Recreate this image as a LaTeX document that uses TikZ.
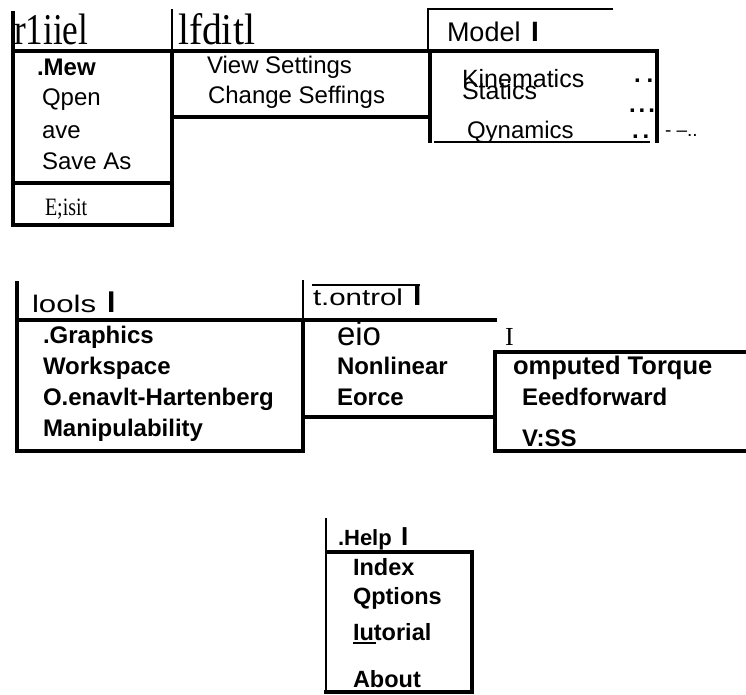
\documentclass[tikz,border=0pt]{standalone}
\usepackage{fontspec}
\setmainfont{Liberation Sans}
\newfontfamily\tmsfont{Liberation Serif}
\newcommand{\fs}[1]{\fontsize{#1}{#1}\selectfont}
\begin{document}
\begin{tikzpicture}[x=1pt,y=-1pt,
  heavy/.style={line width=4pt},
  light/.style={line width=1.3pt},
  mid/.style={line width=2.3pt},
  txt/.style={anchor=base west, inner sep=0pt, outer sep=0pt},
  item/.style={txt, font=\fs{24}},
  bitem/.style={txt, font=\fs{24}\bfseries},
  dots/.style={txt, font=\fs{24}\bfseries, text height=5pt, text depth=0pt}]
\useasboundingbox (0,0) rectangle (746,695);
\fill[white] (0,0) rectangle (746,695);

% ---------- top section: lines ----------
\draw[heavy] (13,11) -- (13,225) -- (172,225) -- (172,51);
\draw[heavy] (11,51) -- (659,51);
\draw[heavy] (13,183) -- (172,183);
\draw[heavy] (172,117) -- (430,117);
\draw[heavy] (430,51) -- (430,143);
\draw[heavy] (657,49) -- (657,143);
\draw[mid] (434,142) -- (650,142);
\draw[light] (172,9) -- (172,51);
\draw[light] (428,51) -- (428,9) -- (613,9);

% ---------- top section: texts ----------
\node[txt, font=\fs{44}\tmsfont] (file) at (14,45) {\scalebox{0.8}[1]{r1iiel}};
\node[txt, font=\fs{44}\tmsfont] (edit) at (178,45) {\scalebox{0.9}[1]{lfditl}};
\node[txt, font=\fs{27}] (model) at (447,42) {Model};
\node[txt, font=\fs{28}\bfseries] (modelbar) at (531,42) {I};

\node[txt, font=\fs{24}\bfseries] (new) at (37,76) {.Mew};
\node[item] (open) at (42,106) {Qpen};
\node[item] (save) at (42,139) {ave};
\node[item] (saveas) at (42,170) {Save As};
\node[txt, font=\fs{25}\tmsfont] (exit) at (45,215) {\scalebox{0.8}[1]{E;isit}};

\node[item] (view) at (207,74) {View Settings};
\node[item] (change) at (208,104) {Change Seffings};

\node[txt, font=\fs{25}] (kin) at (462,88) {Kinematics};
\node[txt, font=\fs{25}] (stat) at (462,100) {Statics};
\node[item] (dyn) at (467,139) {Qynamics};
\node[dots] (d1) at (634,83) {.\kern6pt.};
\node[dots] (d2) at (629,113) {.\kern3pt.\kern3pt.};
\node[dots] (d3) at (632,139) {.\kern4pt.};
\node[txt, font=\fs{19}] (trail) at (665,137) {- --..};

% ---------- middle section: lines ----------
\draw[heavy] (17,281) -- (17,451) -- (303,451) -- (303,320);
\draw[heavy] (15,320) -- (497,320);
\draw[heavy] (303,417) -- (497,417);
\draw[heavy] (746,352) -- (495,352) -- (495,451) -- (746,451);
\draw[light] (303,280) -- (303,320);
\draw[light] (312,285) -- (420,285);

% ---------- middle section: texts ----------
\node[txt, font=\fs{24}] (tools) at (32,312) {\scalebox{1.3}[1]{lools}};
\node[txt, font=\fs{30}\bfseries] (toolsbar) at (107,312) {I};
\node[txt, font=\fs{23}] (control) at (313,305) {\scalebox{1.28}[1]{t.ontrol}};
\node[txt, font=\fs{30}\bfseries] (controlbar) at (413,305) {I};

\node[bitem] (graphics) at (43,343) {.Graphics};
\node[bitem] (workspace) at (43,374) {Workspace};
\node[bitem] (dh) at (43,405) {O.enavlt-Hartenberg};
\node[bitem] (manip) at (43,436) {Manipulability};

\node[txt, font=\fs{33}] (pid) at (337,345) {eio};
\node[bitem] (nonlin) at (337,374) {Nonlinear};
\node[bitem] (force) at (337,405) {Eorce};
\node[txt, font=\fs{26}\tmsfont] (cursor) at (505,345) {I};

\node[txt, font=\fs{25.5}\bfseries] (ct) at (513,374) {omputed Torque};
\node[bitem] (ff) at (522,405) {Eeedforward};
\node[bitem] (vss) at (522,446) {V:SS};

% ---------- help section ----------
\draw[mid] (326,518) -- (326,693);
\draw[heavy] (326,552) -- (472,552) -- (472,692) -- (324,692);

\node[txt, font=\fs{22}\bfseries] (help) at (338,545) {.Help};
\node[txt, font=\fs{26}\bfseries] (helpbar) at (401,545) {I};
\node[txt, font=\fs{23.5}\bfseries] (index) at (353,575) {Index};
\node[txt, font=\fs{23.5}\bfseries] (options) at (353,604) {Qptions};
\node[txt, font=\fs{23.5}\bfseries] (tut) at (353,640) {Iutorial};
\node[txt, font=\fs{23.5}\bfseries] (about) at (353,687) {About};
\draw[line width=2pt] ([yshift=-3pt]tut.base west) -- ++(23,0);
\end{tikzpicture}
\end{document}
